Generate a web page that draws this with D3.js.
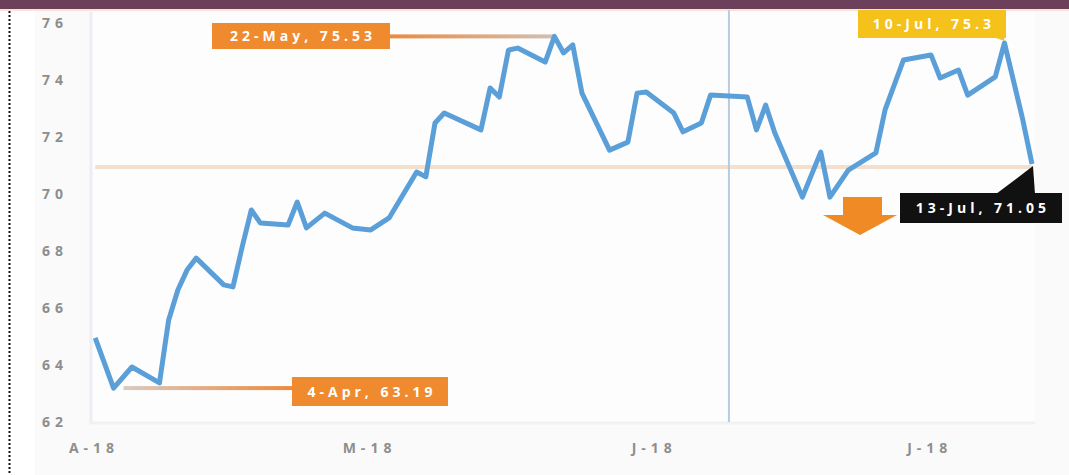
<!DOCTYPE html>
<meta charset="utf-8">
<style>
body { margin: 0; background: #fff; }
.tick-label { font-family: "Open Sans", sans-serif; font-size: 14px; font-weight: bold; fill: #8e8e8e; letter-spacing: 5px; }
.note { font-family: "Open Sans", sans-serif; font-size: 14px; font-weight: bold; fill: #fff; letter-spacing: 4px; }
</style>
<body>
<script src="https://d3js.org/d3.v7.min.js"></script>
<script>
// price series
var dates = ["2018-04-02","2018-04-04","2018-04-06","2018-04-09","2018-04-10","2018-04-11","2018-04-12","2018-04-13",
  "2018-04-16","2018-04-17","2018-04-18","2018-04-19","2018-04-20","2018-04-23","2018-04-24","2018-04-25","2018-04-27",
  "2018-04-30","2018-05-02","2018-05-04","2018-05-07","2018-05-08","2018-05-09","2018-05-10","2018-05-14","2018-05-15",
  "2018-05-16","2018-05-17","2018-05-18","2018-05-21","2018-05-22","2018-05-23","2018-05-24","2018-05-25","2018-05-28",
  "2018-05-30","2018-05-31","2018-06-01","2018-06-04","2018-06-05","2018-06-07","2018-06-08","2018-06-12","2018-06-13",
  "2018-06-14","2018-06-15","2018-06-18","2018-06-20","2018-06-21","2018-06-23","2018-06-26","2018-06-27","2018-06-29",
  "2018-07-02","2018-07-03","2018-07-05","2018-07-06","2018-07-09","2018-07-10","2018-07-12","2018-07-13"];
var prices = [64.95,63.19,63.93,63.37,65.58,66.63,67.33,67.75,
  66.81,66.74,68.14,69.44,68.98,68.91,69.72,68.81,69.33,
  68.81,68.74,69.16,70.77,70.6,72.49,72.84,72.25,73.72,
  73.4,75.05,75.12,74.63,75.53,74.95,75.23,73.54,71.54,
  71.82,73.54,73.58,72.84,72.18,72.49,73.47,73.4,72.25,
  73.12,72.14,69.89,71.47,69.89,70.84,71.44,72.95,74.7,
  74.88,74.07,74.35,73.47,74.11,75.3,72.6,71.05];

var yTicks = [62, 64, 66, 68, 70, 72, 74, 76];
var xTickDates = ["2018-04-01", "2018-05-01", "2018-06-01", "2018-07-01"];
var xTickLabels = ["A-18", "M-18", "J-18", "J-18"];

var refLevel = 70.95;          // horizontal reference line
var markerDate = "2018-06-10"; // vertical marker line

var parse = d3.timeParse("%Y-%m-%d");
var data = dates.map(function(d, i) { return {date: parse(d), value: prices[i]}; });

var width = 1069, height = 475;

var x = d3.scaleTime()
    .domain([parse("2018-04-01"), parse("2018-07-13")])
    .range([86, 1032]);
var y = d3.scaleLinear().domain([62, 76]).range([422, 23]);

var svg = d3.select("body").append("svg")
    .attr("width", width)
    .attr("height", height);

var defs = svg.append("defs");
function fade(id, c1, c2) {
  var g = defs.append("linearGradient").attr("id", id);
  g.append("stop").attr("offset", "0%").attr("stop-color", c1);
  g.append("stop").attr("offset", "100%").attr("stop-color", c2);
}
fade("fadeRight", "#ee8a3c", "#cfc0b4");
fade("fadeLeft", "#d8cbc2", "#ee8a3c");

// backgrounds
svg.append("rect").attr("x", 0).attr("y", 0).attr("width", width).attr("height", height).attr("fill", "#fff");
svg.append("rect").attr("x", 35).attr("y", 10).attr("width", width - 35).attr("height", height - 10).attr("fill", "#fafafb");
svg.append("rect").attr("x", 92).attr("y", 12).attr("width", 943).attr("height", 410).attr("fill", "#fdfdfe");
svg.append("line").attr("x1", 91).attr("x2", 91).attr("y1", 12).attr("y2", 424)
    .attr("stroke", "#eceef1").attr("stroke-width", 3);
svg.append("line").attr("x1", 91).attr("x2", 1035).attr("y1", 423).attr("y2", 423)
    .attr("stroke", "#eff1f3").attr("stroke-width", 3);

// top band
svg.append("rect").attr("x", 0).attr("y", 0).attr("width", width).attr("height", 9).attr("fill", "#6c3f5b");
svg.append("line").attr("x1", 0).attr("x2", width).attr("y1", 10).attr("y2", 10)
    .attr("stroke", "#f3dccb").attr("stroke-width", 1.5);

// dotted left border
svg.append("line").attr("x1", 9.5).attr("x2", 9.5).attr("y1", 11).attr("y2", height)
    .attr("stroke", "#111").attr("stroke-width", 2).attr("stroke-dasharray", "2,2");

// y axis labels
svg.append("g").selectAll("text")
  .data(yTicks)
  .enter().append("text")
    .attr("class", "tick-label")
    .attr("x", 55)
    .attr("y", function(d) { return y(d) + 5; })
    .attr("text-anchor", "middle")
    .text(function(d) { return d; });

// x axis labels
svg.append("g").selectAll("text")
  .data(xTickDates)
  .enter().append("text")
    .attr("class", "tick-label")
    .attr("x", function(d) { return x(parse(d)) + 8; })
    .attr("y", 453)
    .attr("text-anchor", "middle")
    .text(function(d, i) { return xTickLabels[i]; });

// reference line
svg.append("line")
    .attr("x1", x(parse("2018-04-02"))).attr("x2", x(parse("2018-07-13")))
    .attr("y1", y(refLevel)).attr("y2", y(refLevel))
    .attr("stroke", "#f3dfcc").attr("stroke-width", 4);

// vertical marker
svg.append("line")
    .attr("x1", x(parse(markerDate))).attr("x2", x(parse(markerDate)))
    .attr("y1", 10).attr("y2", 422)
    .attr("stroke", "#b7cbe0").attr("stroke-width", 2);

// connectors
var peak = data[30], low = data[1];
svg.append("rect").attr("x", 390).attr("y", y(peak.value) - 2)
    .attr("width", x(peak.date) - 390).attr("height", 4).attr("fill", "url(#fadeRight)");
svg.append("rect").attr("x", x(low.date) + 10).attr("y", y(low.value) - 2)
    .attr("width", 292 - x(low.date) - 10).attr("height", 4).attr("fill", "url(#fadeLeft)");

// the line
var line = d3.line()
    .x(function(d) { return x(d.date); })
    .y(function(d) { return y(d.value); });

svg.append("path")
    .datum(data)
    .attr("fill", "none")
    .attr("stroke", "#5b9fd9")
    .attr("stroke-width", 5)
    .attr("stroke-linejoin", "round")
    .attr("d", line);

// annotation boxes
function note(x0, y0, w, h, fill, label) {
  svg.append("rect").attr("x", x0).attr("y", y0).attr("width", w).attr("height", h).attr("fill", fill);
  svg.append("text").attr("class", "note")
      .attr("x", x0 + w / 2 + 2).attr("y", y0 + h / 2 + 5)
      .attr("text-anchor", "middle")
      .text(label);
}
note(212, 23, 178, 26, "#ef8a2e", "22-May, 75.53");
note(292, 377, 156, 29, "#ef8a2e", "4-Apr, 63.19");

// yellow callout with tail to the July peak
var jp = data[58];
svg.append("path")
    .attr("d", "M990,36 L" + x(jp.date) + "," + (y(jp.value) - 2) + " L1004,36 Z")
    .attr("fill", "#e9c24a");
note(858, 10, 148, 28, "#f4c21a", "10-Jul, 75.3");

// black callout with tail to the last point
var last = data[data.length - 1];
svg.append("path")
    .attr("d", "M996,194 L" + (x(last.date) + 1) + "," + (y(last.value) + 2) + " L1035,194 Z")
    .attr("fill", "#111");
note(900, 193, 162, 30, "#111", "13-Jul, 71.05");

// orange down arrow
svg.append("path")
    .attr("d", "M843,197 L882,197 L882,215 L897,215 L860,235 L823,215 L843,215 Z")
    .attr("fill", "#f08a24");
</script>
</body>
